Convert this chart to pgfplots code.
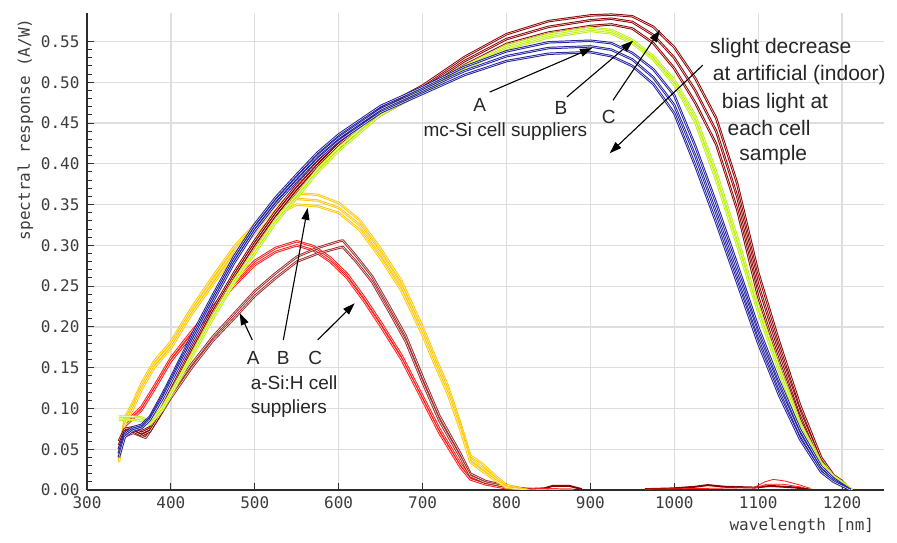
\documentclass[border=0pt]{standalone}
\usepackage{pgfplots}
\pgfplotsset{compat=1.18}
\usepackage{pgfplotstable}
\usepackage{fontspec}
\setmainfont{Liberation Sans}
\newfontfamily\monofont{DejaVu Sans Mono}
\usetikzlibrary{arrows.meta}

\definecolor{mcA}{RGB}{30,30,160}
\definecolor{mcB}{RGB}{190,240,10}
\definecolor{mcC}{RGB}{140,0,0}
\definecolor{aA}{RGB}{160,42,42}
\definecolor{aB}{RGB}{255,200,0}
\definecolor{aC}{RGB}{255,25,25}
\definecolor{gridc}{RGB}{222,222,222}
\definecolor{axisc}{RGB}{45,45,45}
\definecolor{labc}{RGB}{60,60,60}

% mc-Si supplier A (blue)
\pgfplotstableread{
x     b1     b2     b3
338   0.050  0.045  0.040
345   0.070  0.068  0.065
355   0.077  0.075  0.073
365   0.080  0.078  0.076
375   0.090  0.088  0.086
390   0.118  0.115  0.112
400   0.138  0.135  0.132
425   0.190  0.186  0.182
450   0.239  0.235  0.231
475   0.286  0.282  0.278
500   0.326  0.322  0.318
525   0.359  0.355  0.351
550   0.387  0.383  0.379
575   0.414  0.410  0.406
600   0.436  0.432  0.428
650   0.471  0.467  0.463
700   0.494  0.490  0.486
750   0.519  0.514  0.509
800   0.538  0.532  0.526
850   0.549  0.542  0.535
900   0.551  0.544  0.537
925   0.548  0.540  0.532
950   0.536  0.528  0.520
975   0.516  0.506  0.498
1000  0.484  0.472  0.462
1025  0.422  0.410  0.398
1050  0.352  0.340  0.328
1075  0.277  0.265  0.254
1100  0.200  0.190  0.180
1125  0.134  0.125  0.116
1150  0.074  0.068  0.062
1175  0.029  0.025  0.022
1190  0.014  0.012  0.010
1200  0.007  0.006  0.005
1210  0.000  0.000  0.000
}\mcAtbl

% mc-Si supplier B (yellow-green)
\pgfplotstableread{
x     g1     g2
338   0.090  0.086
345   0.090  0.086
355   0.090  0.086
365   0.089  0.085
375   0.084  0.080
390   0.102  0.098
400   0.120  0.116
425   0.167  0.163
450   0.214  0.210
475   0.257  0.253
500   0.294  0.290
525   0.332  0.328
550   0.362  0.358
575   0.394  0.390
600   0.420  0.416
650   0.464  0.460
700   0.492  0.488
750   0.520  0.516
800   0.545  0.541
850   0.559  0.555
900   0.567  0.563
925   0.564  0.560
950   0.552  0.548
975   0.532  0.528
1000  0.503  0.497
1025  0.459  0.451
1050  0.390  0.380
1075  0.310  0.300
1100  0.226  0.218
1125  0.151  0.145
1150  0.082  0.078
1175  0.034  0.032
1190  0.017  0.015
1200  0.010  0.008
1212  0.000  0.000
}\mcBtbl

% mc-Si supplier C (dark red)
\pgfplotstableread{
x     c1     c2     c3
338   0.060  0.055  0.050
345   0.075  0.072  0.069
355   0.077  0.075  0.072
365   0.072  0.070  0.067
375   0.077  0.075  0.072
390   0.103  0.100  0.097
400   0.123  0.120  0.117
425   0.174  0.170  0.166
450   0.222  0.218  0.214
475   0.266  0.262  0.258
500   0.306  0.302  0.298
525   0.342  0.338  0.334
550   0.374  0.370  0.366
575   0.402  0.398  0.394
600   0.428  0.424  0.420
650   0.468  0.464  0.460
700   0.496  0.492  0.488
750   0.531  0.526  0.521
800   0.559  0.553  0.547
850   0.575  0.568  0.561
900   0.582  0.576  0.569
925   0.583  0.578  0.571
950   0.581  0.574  0.566
975   0.568  0.558  0.548
1000  0.543  0.530  0.517
1025  0.505  0.490  0.475
1050  0.456  0.440  0.424
1075  0.376  0.360  0.344
1100  0.267  0.252  0.237
1125  0.182  0.170  0.158
1150  0.104  0.095  0.086
1175  0.040  0.035  0.030
1190  0.018  0.016  0.014
1200  0.011  0.010  0.009
1210  0.000  0.000  0.000
}\mcCtbl

% a-Si:H supplier A (brown)
\pgfplotstableread{
x     a1     a2
338   0.050  0.045
345   0.070  0.066
355   0.074  0.070
370   0.068  0.064
385   0.092  0.088
400   0.118  0.113
425   0.155  0.150
450   0.188  0.183
475   0.216  0.210
500   0.244  0.238
525   0.266  0.260
550   0.286  0.280
575   0.297  0.290
600   0.305  0.297
605   0.306  0.298
620   0.288  0.281
640   0.262  0.255
660   0.226  0.219
680   0.189  0.182
700   0.139  0.132
720   0.091  0.085
745   0.045  0.040
757   0.020  0.017
775   0.011  0.009
800   0.005  0.004
830   0.000  0.000
}\aAtbl

% a-Si:H supplier B (yellow)
\pgfplotstableread{
x     y1     y2     y3
338   0.042  0.038  0.034
345   0.088  0.084  0.080
355   0.108  0.104  0.100
365   0.131  0.127  0.123
380   0.158  0.154  0.150
400   0.182  0.178  0.174
425   0.224  0.220  0.216
450   0.262  0.257  0.252
475   0.298  0.293  0.288
500   0.326  0.320  0.314
525   0.349  0.343  0.337
550   0.364  0.357  0.350
575   0.362  0.355  0.348
600   0.352  0.346  0.340
625   0.331  0.325  0.319
650   0.296  0.290  0.284
675   0.256  0.250  0.244
700   0.200  0.195  0.190
715   0.163  0.158  0.153
730   0.128  0.123  0.118
745   0.082  0.078  0.074
757   0.042  0.038  0.034
770   0.033  0.028  0.024
785   0.019  0.016  0.013
800   0.006  0.004  0.003
825   0.000  0.000  0.000
}\aBtbl

% a-Si:H supplier C (red)
\pgfplotstableread{
x     r1     r2
338   0.045  0.040
345   0.082  0.078
355   0.092  0.088
365   0.102  0.098
380   0.127  0.123
400   0.162  0.158
425   0.195  0.190
450   0.225  0.220
475   0.255  0.250
500   0.281  0.276
525   0.297  0.292
550   0.305  0.300
570   0.299  0.294
590   0.285  0.280
610   0.265  0.260
630   0.237  0.232
650   0.206  0.201
675   0.165  0.160
700   0.115  0.110
720   0.075  0.070
745   0.032  0.028
757   0.016  0.013
775   0.009  0.007
800   0.003  0.002
830   0.001  0.001
880   0.000  0.000
}\aCtbl

\newcommand{\band}[3]{%
  \addplot[#1, line width=2.4pt, line join=round] table[x=x,y=#3]{#2};
  \addplot[white, line width=0.45pt, line join=round] table[x=x,y=#3]{#2};
}

\begin{document}
\begin{tikzpicture}
\begin{axis}[
  scale only axis,
  width=797pt, height=477pt,
  xmin=300, xmax=1250, ymin=0, ymax=0.585,
  axis lines*=left,
  axis line style={axisc, line width=1.3pt},
  xtick={300,400,...,1200},
  ytick={0,0.05,...,0.56},
  minor y tick num=4,
  tick align=inside,
  major tick length=7pt, minor tick length=5pt,
  tick style={axisc, line width=1pt},
  grid=major,
  major grid style={gridc, line width=1.3pt},
  ticklabel style={font=\monofont\fontsize{16}{18}\selectfont, text=labc},
  /pgf/number format/assume math mode=true,
  /pgf/number format/1000 sep={},
  yticklabel style={/pgf/number format/fixed, /pgf/number format/fixed zerofill, /pgf/number format/precision=2, xshift=-4pt},
  xticklabel style={yshift=-3pt},
  xlabel={wavelength [nm]},
  xlabel style={font=\monofont\fontsize{16}{18}\selectfont, text=labc, at={(axis description cs:0.992,0)}, anchor=north east, yshift=-25pt},
  ylabel={spectral response (A/W)},
  ylabel style={font=\monofont\fontsize{16}{18}\selectfont, text=labc, at={(axis description cs:0,1)}, anchor=north east, yshift=73pt, xshift=-2pt},
  clip=true,
]
\coordinate (ll) at (rel axis cs:0,0);

% near-zero tails
\addplot[mcC, line width=2pt] coordinates {(820,0.001) (845,0.002) (855,0.005) (875,0.005) (890,0.001)};
\addplot[mcC, line width=2pt] coordinates {(965,0.001) (1000,0.002) (1025,0.004) (1040,0.006) (1060,0.004) (1095,0.003) (1115,0.005) (1145,0.003) (1165,0.0)};
\addplot[aC, line width=0.8pt] coordinates {(965,0.001) (1040,0.002) (1095,0.003) (1108,0.010) (1118,0.013) (1132,0.011) (1150,0.006) (1162,0.002)};
\addplot[aC, line width=0.8pt] coordinates {(1095,0.002) (1110,0.007) (1130,0.007) (1155,0.003)};

% a-Si:H cells
\band{aC}{\aCtbl}{r1}
\band{aC}{\aCtbl}{r2}
\band{aA}{\aAtbl}{a1}
\band{aA}{\aAtbl}{a2}
\band{aB}{\aBtbl}{y1}
\band{aB}{\aBtbl}{y2}
\band{aB}{\aBtbl}{y3}

% mc-Si cells
\band{mcC}{\mcCtbl}{c1}
\band{mcC}{\mcCtbl}{c2}
\band{mcC}{\mcCtbl}{c3}
\band{mcB}{\mcBtbl}{g1}
\band{mcB}{\mcBtbl}{g2}
\band{mcA}{\mcAtbl}{b1}
\band{mcA}{\mcAtbl}{b2}
\band{mcA}{\mcAtbl}{b3}

% annotations
\begin{scope}[font=\fontsize{19}{22}\selectfont, text=black!85]
\node at (axis cs:768,0.472) {A};
\node at (axis cs:865,0.468) {B};
\node at (axis cs:922,0.457) {C};
\node[anchor=west] at (axis cs:697,0.439) {mc-Si cell suppliers};
\node at (axis cs:498,0.162) {A};
\node at (axis cs:534,0.162) {B};
\node at (axis cs:572,0.162) {C};
\node[anchor=west] at (axis cs:491,0.131) {a-Si:H cell};
\node[anchor=west] at (axis cs:491,0.100) {suppliers};
\end{scope}
\begin{scope}[font=\fontsize{21}{24}\selectfont, text=black!85]
\node at (axis cs:1127,0.542) {slight decrease};
\node at (axis cs:1149,0.509) {at artificial (indoor)};
\node at (axis cs:1120,0.475) {bias light at};
\node at (axis cs:1113,0.444) {each cell};
\node at (axis cs:1118,0.411) {sample};
\end{scope}
\begin{scope}[line width=1.1pt, -{Triangle[length=12pt,width=8pt]}]
\draw (axis cs:780,0.488) -- (axis cs:902,0.542);
\draw (axis cs:872,0.482) -- (axis cs:951,0.551);
\draw (axis cs:927,0.478) -- (axis cs:983,0.564);
\draw (axis cs:1034,0.521) -- (axis cs:923,0.413);
\draw (axis cs:497,0.184) -- (axis cs:482,0.217);
\draw (axis cs:534,0.184) -- (axis cs:563,0.346);
\draw (axis cs:575,0.184) -- (axis cs:619,0.229);
\end{scope}
\end{axis}
\pgfresetboundingbox
\useasboundingbox (ll) ++(-87pt,-53pt) rectangle ++(897pt,543pt);
\end{tikzpicture}
\end{document}
